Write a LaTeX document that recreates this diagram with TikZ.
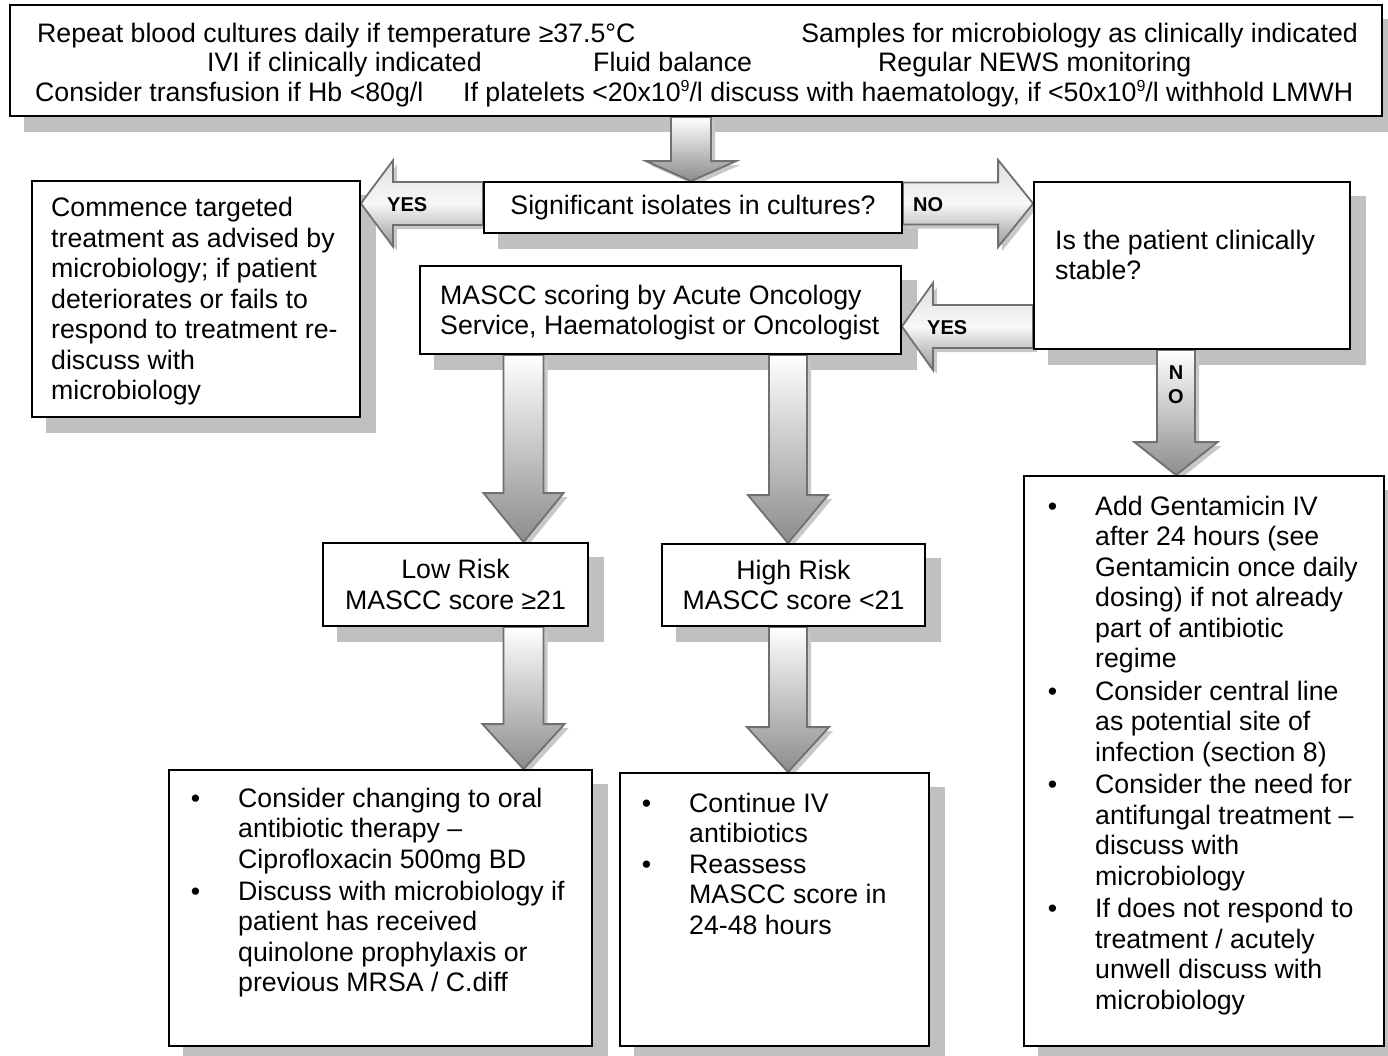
\documentclass[tikz,border=0pt]{standalone}
\usepackage{fontspec}
\setmainfont{Liberation Sans}
\usetikzlibrary{calc}
\definecolor{shadowgray}{RGB}{192,192,192}
\definecolor{arrline}{RGB}{112,112,112}
\definecolor{arrshade}{RGB}{200,200,200}
\pgfdeclarelayer{shadowlayer}
\pgfdeclarelayer{arrowlayer}
\pgfsetlayers{shadowlayer,arrowlayer,main}
\newcommand\TL[1]{\vtop{\halign{##\hfil\cr#1\crcr}}}
\newcommand\bul{\llap{\textbullet\hspace{38pt}}}
\newcommand\supnine{\raisebox{10pt}{\fontsize{16}{16}\selectfont 9}}
% vertical block arrow: #1 x (px), #2 from anchor, #3 to anchor, #4 shaft half width, #5 head half width, #6 head length
\newcommand\vblock[6]{%
  \fill[arrshade] let \p1=(#2), \p2=(#3) in
    ({#1pt-#4pt+4pt},{\y1-4pt}) -- ({#1pt-#4pt+4pt},{\y2+#6pt-4pt}) -- ({#1pt-#5pt+4pt},{\y2+#6pt-4pt})
    -- ({#1pt+4pt},{\y2-4pt}) -- ({#1pt+#5pt+4pt},{\y2+#6pt-4pt}) -- ({#1pt+#4pt+4pt},{\y2+#6pt-4pt})
    -- ({#1pt+#4pt+4pt},{\y1-4pt}) -- cycle;
  \shadedraw[arrbody, top color=white, bottom color=black!45] let \p1=(#2), \p2=(#3) in
    ({#1pt-#4pt},{\y1}) -- ({#1pt-#4pt},{\y2+#6pt}) -- ({#1pt-#5pt},{\y2+#6pt})
    -- ({#1pt},{\y2}) -- ({#1pt+#5pt},{\y2+#6pt}) -- ({#1pt+#4pt},{\y2+#6pt})
    -- ({#1pt+#4pt},{\y1}) -- cycle;
}
% horizontal block arrow: #1 y (px), #2 from anchor, #3 to anchor, #4 shaft half width, #5 head half width, #6 signed head length
\newcommand\hblock[6]{%
  \fill[arrshade] let \p1=(#2), \p2=(#3) in
    ({\x1+4pt},{-#1pt+#4pt-4pt}) -- ({\x2-(#6pt)+4pt},{-#1pt+#4pt-4pt}) -- ({\x2-(#6pt)+4pt},{-#1pt+#5pt-4pt})
    -- ({\x2+4pt},{-#1pt-4pt}) -- ({\x2-(#6pt)+4pt},{-#1pt-#5pt-4pt}) -- ({\x2-(#6pt)+4pt},{-#1pt-#4pt-4pt})
    -- ({\x1+4pt},{-#1pt-#4pt-4pt}) -- cycle;
  \shadedraw[arrbody, top color=black!12, bottom color=black!40, middle color=black!3] let \p1=(#2), \p2=(#3) in
    ({\x1},{-#1pt+#4pt}) -- ({\x2-(#6pt)},{-#1pt+#4pt}) -- ({\x2-(#6pt)},{-#1pt+#5pt})
    -- ({\x2},{-#1pt}) -- ({\x2-(#6pt)},{-#1pt-#5pt}) -- ({\x2-(#6pt)},{-#1pt-#4pt})
    -- ({\x1},{-#1pt-#4pt}) -- cycle;
}
\begin{document}
\begin{tikzpicture}[x=1pt,y=-1pt,
  every node/.style={font=\fontsize{26.7}{30.5}\selectfont, inner sep=0pt},
  box/.style={draw=black, line width=1.8pt, fill=white, inner sep=0pt, align=center},
  txt/.style={anchor=base west},
  lab/.style={font=\fontsize{20}{24}\selectfont\bfseries, anchor=west},
  arrbody/.style={draw=arrline, line width=1.8pt}]
\useasboundingbox (0,0) rectangle (1388,1055);

% boxes
\node[box, minimum width=1372pt, minimum height=111pt] (top) at (696,60.5) {};
\node[box, minimum width=418pt, minimum height=51pt] (sig) at (693,207.5) {Significant isolates in cultures?};
\node[box, minimum width=316pt, minimum height=167pt] (stable) at (1192,265.5) {};
\node[box, minimum width=328pt, minimum height=236pt] (commence) at (196,299) {};
\node[box, minimum width=481pt, minimum height=88pt] (mascc) at (660.5,310) {};
\node[box, minimum width=265pt, minimum height=83pt] (low) at (455.5,584.5) {Low Risk\\MASCC score ≥21};
\node[box, minimum width=263pt, minimum height=82pt] (high) at (793.5,585) {High Risk\\MASCC score <21};
\node[box, minimum width=423pt, minimum height=276pt] (lowact) at (380.5,908) {};
\node[box, minimum width=309pt, minimum height=273pt] (highact) at (774.5,909.5) {};
\node[box, minimum width=360pt, minimum height=570pt] (unstable) at (1204,761) {};

% box shadows
\begin{pgfonlayer}{shadowlayer}
\foreach \n in {top,sig,stable,commence,mascc,low,high,lowact,highact,unstable}
  \fill[shadowgray] ([shift={(15pt,-15pt)}]\n.south west) rectangle ([shift={(15pt,-15pt)}]\n.north east);
\end{pgfonlayer}

% texts
\node[txt] at (37,42) {Repeat blood cultures daily if temperature ≥37.5°C};
\node[anchor=base east] at (1358,42) {Samples for microbiology as clinically indicated};
\node[txt] at (207,71.5) {IVI if clinically indicated};
\node[txt] at (593,71.5) {Fluid balance};
\node[txt] at (878,71.5) {Regular NEWS monitoring};
\node[txt] at (35,101) {Consider transfusion if Hb <80g/l};
\node[txt] at (463,101) {If platelets <20x10\supnine/l discuss with haematology, if <50x10\supnine/l withhold LMWH};

\node[txt] at (51,216.5) {\TL{Commence targeted\cr treatment as advised by\cr microbiology; if patient\cr deteriorates or fails to\cr respond to treatment re-\cr discuss with\cr microbiology}};
\node[txt] at (1055,249) {\TL{Is the patient clinically\cr stable?}};
\node[txt] at (440,304) {\TL{MASCC scoring by Acute Oncology\cr Service, Haematologist or Oncologist}};

\node[txt] at (238,807) {\TL{\bul Consider changing to oral\cr antibiotic therapy –\cr Ciprofloxacin 500mg BD\cr\noalign{\vskip1.5pt}\bul Discuss with microbiology if\cr patient has received\cr quinolone prophylaxis or\cr previous MRSA / C.diff}};
\node[txt] at (689,812) {\TL{\bul Continue IV\cr antibiotics\cr \bul Reassess\cr MASCC score in\cr 24-48 hours}};
\node[txt] at (1095,515) {\TL{\bul Add Gentamicin IV\cr after 24 hours (see\cr Gentamicin once daily\cr dosing) if not already\cr part of antibiotic\cr regime\cr\noalign{\vskip2pt}\bul Consider central line\cr as potential site of\cr infection (section 8)\cr\noalign{\vskip2pt}\bul Consider the need for\cr antifungal treatment –\cr discuss with\cr microbiology\cr\noalign{\vskip2pt}\bul If does not respond to\cr treatment / acutely\cr unwell discuss with\cr microbiology}};

% block arrows
\begin{pgfonlayer}{arrowlayer}
\vblock{691}{top.south}{sig.north}{20}{45}{20}
\hblock{203.5}{sig.west}{commence.east}{21.5}{43}{-32}
\hblock{203.5}{sig.east}{stable.west}{21}{43.5}{35}
\hblock{326.5}{stable.west}{mascc.east}{21.5}{43.5}{-31}
\vblock{1176}{stable.south}{unstable.north}{19}{41.5}{33}
\vblock{523.5}{mascc.south}{low.north}{20}{40}{49}
\vblock{788}{mascc.south}{high.north}{19}{40}{48}
\vblock{523.5}{low.south}{lowact.north}{20}{41}{45}
\vblock{788}{high.south}{highact.north}{19}{41}{45}
\end{pgfonlayer}

% arrow labels
\node[lab] at (387,205) {YES};
\node[lab] at (913,205) {NO};
\node[lab] at (927,328) {YES};
\node[lab, anchor=center, align=center] at (1176,385) {N\\O};
\end{tikzpicture}
\end{document}
